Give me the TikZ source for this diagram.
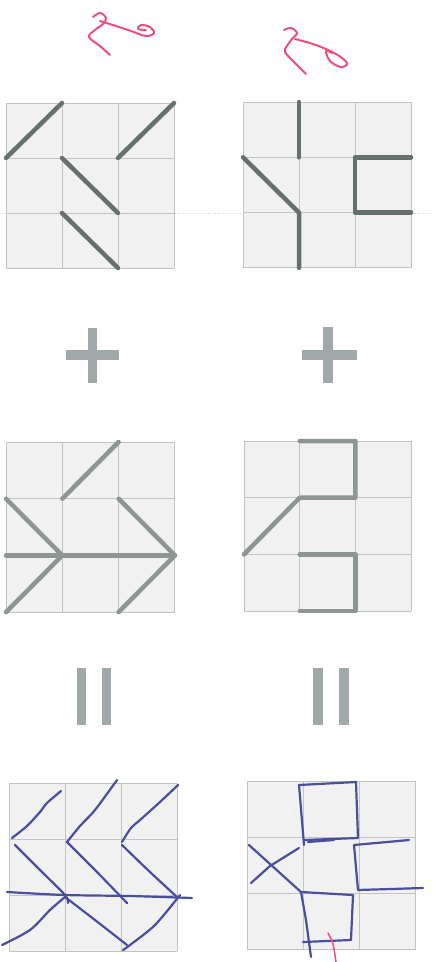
\documentclass[tikz,border=0pt]{standalone}
\definecolor{paper}{HTML}{F1F1F1}
\definecolor{gridln}{HTML}{C2C4C4}
\definecolor{strokedk}{HTML}{66716F}
\definecolor{strokelt}{HTML}{8E9695}
\definecolor{barc}{HTML}{A0A8AA}
\definecolor{pen}{HTML}{4A4E9E}
\definecolor{redpen}{HTML}{EC4F7C}
\tikzset{
  gridline/.style={draw=gridln, line width=0.9pt},
  segdk/.style={draw=strokedk, line width=4.5pt, line cap=round, line join=round},
  seglt/.style={draw=strokelt, line width=4.5pt, line cap=round, line join=round},
  bar/.style={fill=barc, draw=none},
  penline/.style={draw=pen, line width=2.2pt, line cap=round, line join=round},
  redline/.style={draw=redpen, line width=2pt, line cap=round, line join=round},
}
\newcommand{\mygridbase}{%
  \fill[paper] (0,0) rectangle (3,3);
  \foreach \i in {0,1,2,3} {\draw[gridline] (\i,0) -- (\i,3); \draw[gridline] (0,\i) -- (3,\i);}
}
\begin{document}
\begin{tikzpicture}[x=1pt,y=-1pt]
\useasboundingbox (0,0) rectangle (432,962);
\fill[white] (0,0) rectangle (432,962);

% faint guide line
\draw[gridln!70, line width=0.5pt, dotted] (0,213) -- (432,213);

% red scribbles
\draw[redline] plot[smooth, tension=0.6] coordinates {(93,17) (100,13) (106,18) (103,24) (95,30) (89,37) (100,46) (110,55)};
\draw[redline] plot[smooth, tension=0.6] coordinates {(100,21) (116,26) (131,31) (146,36) (154,33) (150,27) (141,25) (138,29) (146,30)};
\draw[redline] plot[smooth, tension=0.6] coordinates {(284,30) (291,28) (297,33) (292,39) (287,46) (285,52) (295,63) (306,74)};
\draw[redline] plot[smooth, tension=0.6] coordinates {(295,39) (316,45) (336,54) (347,63) (341,67) (330,61) (326,51) (332,53)};

% grid 1 (top left)
\begin{scope}[shift={(6,103)}, x=56pt, y=-55pt]
  \mygridbase
  \draw[segdk] (0,1) -- (1,0);
  \draw[segdk] (2,1) -- (3,0);
  \draw[segdk] (1,1) -- (2,2);
  \draw[segdk] (1,2) -- (2,3);
\end{scope}

% grid 2 (top right)
\begin{scope}[shift={(243,102)}, x=56pt, y=-55.3pt]
  \mygridbase
  \draw[segdk] (1,0) -- (1,1);
  \draw[segdk] (0,1) -- (1,2) -- (1,3);
  \draw[segdk] (3,1) -- (2,1) -- (2,2) -- (3,2);
\end{scope}

% plus signs
\fill[bar] (66,350) rectangle (119,360);
\fill[bar] (88,328) rectangle (97,383);
\fill[bar] (302,350) rectangle (357,360);
\fill[bar] (323,327) rectangle (333,383);

% grid 3 (middle left)
\begin{scope}[shift={(6,442)}, x=56.3pt, y=-56.7pt]
  \mygridbase
  \draw[seglt] (1,1) -- (2,0);
  \draw[seglt] (0,1) -- (1,2) -- (0,3);
  \draw[seglt] (0,2) -- (3,2);
  \draw[seglt] (2,1) -- (3,2) -- (2,3);
\end{scope}

% grid 4 (middle right)
\begin{scope}[shift={(244,441)}, x=55.7pt, y=-56.7pt]
  \mygridbase
  \draw[seglt] (1,0) -- (2,0) -- (2,1) -- (1,1) -- (0,2);
  \draw[seglt] (1,2) -- (2,2) -- (2,3) -- (1,3);
\end{scope}

% equals signs
\fill[bar] (77,668) rectangle (86,725);
\fill[bar] (102,668) rectangle (111,725);
\fill[bar] (313,668) rectangle (323,725);
\fill[bar] (339,668) rectangle (349,725);

% grid 5 (bottom left)
\begin{scope}[shift={(9,783)}, x=56pt, y=-56pt]
  \mygridbase
\end{scope}
\draw[penline] plot[smooth] coordinates {(12,838) (27,826) (40,812) (47,803) (61,791)};
\draw[penline] plot[smooth] coordinates {(67,842) (80,826) (95,810) (117,780)};
\draw[penline] plot[smooth] coordinates {(122,842) (131,828) (140,820) (160,802) (178,785)};
\draw[penline] plot[smooth] coordinates {(15,845) (40,870) (65,895) (68,903)};
\draw[penline] plot[smooth] coordinates {(67,842) (97,872) (127,903)};
\draw[penline] plot[smooth] coordinates {(122,845) (150,872) (177,897)};
\draw[penline] plot[smooth] coordinates {(7,892) (65,895) (130,896) (192,898)};
\draw[penline] plot[smooth] coordinates {(2,945) (30,930) (50,910) (65,897)};
\draw[penline] plot[smooth] coordinates {(65,897) (95,920) (127,945)};
\draw[penline] plot[smooth] coordinates {(123,950) (130,945) (155,925) (180,895)};

% grid 6 (bottom right)
\begin{scope}[shift={(247,781)}, x=56.3pt, y=-56.3pt]
  \mygridbase
\end{scope}
\draw[penline] (299,785) -- (356,782) -- (358,838) -- (304,840);
\draw[penline] (299,785) -- (304,845);
\draw[penline] (308,842) -- (334,840);
\draw[penline] (409,840) -- (354,845) -- (358,890) -- (423,888);
\draw[penline] (249,845) -- (301,892);
\draw[penline] (251,883) -- (270,866) -- (299,848);
\draw[penline] (301,892) -- (353,895) -- (351,940) -- (303,942);
\draw[penline] (301,892) -- (306,920) -- (311,957);
\draw[redline, line width=1.5pt] plot[smooth] coordinates {(328,933) (333,944) (336,962)};
\end{tikzpicture}
\end{document}
